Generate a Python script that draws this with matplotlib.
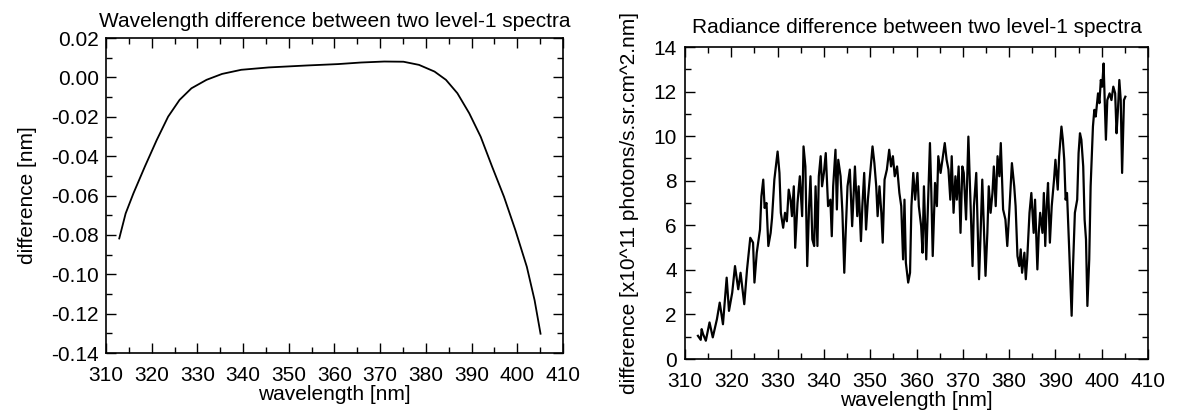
import numpy as np
import matplotlib
matplotlib.use('Agg')
import matplotlib.pyplot as plt
from matplotlib.ticker import MultipleLocator, FormatStrFormatter

plt.rcParams['font.family'] = ['Liberation Sans', 'DejaVu Sans']
plt.rcParams['axes.unicode_minus'] = False

# Left panel: wavelength difference
wl_shift_x = [312.9, 314.3, 316.0, 318.5, 321.1, 323.6, 326.1, 328.7, 332.0, 335.4,
              339.6, 345.6, 354.0, 360.8, 365.8, 370.9, 375.1, 378.5, 381.9, 384.4,
              386.9, 389.5, 392.0, 394.5, 397.1, 399.6, 402.1, 403.8, 405.1]
wl_shift_y = [-0.0818, -0.0691, -0.0589, -0.0453, -0.0318, -0.0199, -0.0114, -0.0055, -0.0012, 0.0018,
              0.0039, 0.0051, 0.0061, 0.0068, 0.0076, 0.0081, 0.0080, 0.0064, 0.0030, -0.0012,
              -0.0080, -0.0182, -0.0301, -0.0453, -0.0606, -0.0776, -0.0962, -0.1132, -0.1302]

# Right panel: radiance difference [x10^11 photons/s.sr.cm^2.nm]
rad_x = [312.8, 313.4, 313.6, 313.9, 314.5, 315.3, 316.0, 316.9, 317.5, 318.2,
         319.0, 319.5, 320.2, 320.8, 321.5, 322.0, 322.8, 323.4, 324.1, 324.7,
         325.0, 325.5, 326.2, 326.5, 326.9, 327.2, 327.6, 328.0, 328.5, 328.8,
         329.3, 330.0, 330.4, 330.7, 331.2, 331.6, 332.0, 332.4, 332.8, 333.1,
         333.5, 333.8, 334.3, 334.8, 335.3, 335.6, 336.0, 336.4, 336.8, 337.1,
         337.5, 337.9, 338.2, 338.6, 338.9, 339.3, 339.6, 340.0, 340.4, 340.9,
         341.4, 341.7, 342.0, 342.5, 342.8, 343.1, 343.6, 344.0, 344.4, 344.7,
         345.1, 345.6, 346.1, 346.4, 346.7, 347.2, 347.5, 348.0, 348.3, 348.7,
         349.1, 349.5, 350.0, 350.5, 350.9, 351.3, 351.6, 352.0, 352.4, 352.7,
         353.1, 353.6, 354.1, 354.5, 354.9, 355.3, 355.8, 356.3, 356.7, 357.1,
         357.4, 357.7, 358.2, 358.6, 358.9, 359.3, 359.7, 360.2, 360.5, 361.0,
         361.3, 361.6, 362.1, 362.4, 362.9, 363.2, 363.5, 364.0, 364.4, 364.7,
         365.2, 365.7, 366.1, 366.5, 366.9, 367.3, 367.6, 368.0, 368.4, 368.7,
         369.1, 369.5, 369.9, 370.2, 370.7, 371.2, 371.6, 372.1, 372.4, 372.9,
         373.2, 373.5, 373.8, 374.2, 374.6, 374.9, 375.3, 375.6, 376.0, 376.4,
         376.7, 377.1, 377.5, 377.9, 378.2, 378.7, 379.2, 379.6, 380.1, 380.6,
         381.1, 381.4, 381.8, 382.2, 382.5, 382.8, 383.3, 383.6, 383.9, 384.4,
         384.8, 385.3, 385.6, 386.1, 386.4, 386.7, 387.2, 387.5, 387.8, 388.1,
         388.4, 388.8, 389.2, 389.7, 390.0, 390.5, 390.8, 391.3, 391.6, 391.9,
         392.2, 392.5, 393.0, 393.5, 393.8, 394.2, 394.7, 395.0, 395.3, 395.6,
         396.0, 396.3, 396.6, 396.9, 397.3, 397.6, 398.1, 398.4, 398.7, 399.2,
         399.5, 399.8, 400.1, 400.4, 400.9, 401.2, 401.7, 402.1, 402.5, 402.9,
         403.2, 403.5, 403.8, 404.1, 404.4, 404.8, 405.1]
rad_y = [1.04, 0.86, 1.34, 1.12, 0.82, 1.64, 0.97, 1.79, 2.53, 1.56,
         3.65, 2.16, 2.98, 4.17, 3.13, 3.87, 2.46, 4.02, 5.44, 5.22,
         3.43, 4.77, 5.81, 7.30, 8.05, 6.78, 7.00, 5.07, 5.66, 6.33,
         8.05, 9.31, 8.35, 6.56, 5.89, 6.56, 6.18, 7.60, 7.15, 6.41,
         7.75, 4.99, 7.00, 8.20, 6.41, 9.54, 8.64, 4.17, 6.86, 8.20,
         5.37, 5.07, 7.75, 5.07, 8.20, 9.10, 7.75, 8.35, 9.24, 6.86,
         7.15, 5.51, 7.75, 9.39, 6.71, 8.94, 8.20, 6.56, 3.87, 5.66,
         7.75, 8.50, 5.96, 7.30, 8.64, 6.41, 7.75, 5.29, 6.86, 8.35,
         5.81, 7.15, 8.35, 9.54, 8.79, 7.75, 6.41, 7.75, 6.56, 5.22,
         8.05, 8.50, 9.39, 8.64, 9.10, 8.20, 8.64, 7.45, 6.86, 4.47,
         7.15, 4.32, 3.43, 3.87, 6.86, 8.35, 7.15, 8.35, 6.86, 5.96,
         4.77, 7.75, 4.47, 6.41, 9.69, 7.45, 4.62, 7.90, 6.86, 9.10,
         8.35, 9.10, 9.69, 8.94, 8.50, 7.15, 9.10, 6.56, 8.20, 7.15,
         8.64, 5.66, 8.64, 8.35, 6.26, 9.98, 7.45, 4.17, 6.86, 8.35,
         5.96, 3.58, 5.37, 8.05, 5.66, 3.73, 5.66, 7.75, 6.56, 7.45,
         8.64, 6.86, 9.10, 8.20, 9.69, 6.71, 6.26, 5.07, 6.86, 8.79,
         7.75, 6.86, 4.62, 4.17, 4.92, 3.87, 4.77, 3.58, 4.47, 6.56,
         7.45, 5.66, 7.15, 4.02, 5.66, 6.56, 5.66, 7.45, 5.07, 6.86,
         7.90, 5.22, 6.86, 8.05, 8.94, 7.60, 9.10, 10.43, 9.84, 8.94,
         7.15, 7.45, 4.77, 1.94, 4.17, 6.56, 7.15, 9.24, 10.13, 9.84,
         8.64, 6.26, 5.37, 2.38, 4.47, 7.75, 10.43, 11.18, 10.88, 11.92,
         11.48, 12.52, 12.22, 13.26, 9.84, 11.62, 11.92, 11.62, 12.22, 11.92,
         10.13, 11.18, 12.52, 11.62, 8.35, 11.62, 11.77]

fig = plt.figure(figsize=(11.99, 4.16), dpi=100)
ax1 = fig.add_axes([0.0884, 0.1514, 0.3811, 0.757])
ax2 = fig.add_axes([0.5713, 0.1370, 0.3862, 0.750])


def style_axes(ax, xpad, ypad):
    for sp in ax.spines.values():
        sp.set_linewidth(1.2)
    ax.tick_params(which='both', direction='in', top=True, right=True,
                   labelsize=15, width=1.0)
    ax.tick_params(which='major', length=7)
    ax.tick_params(which='minor', length=4)
    ax.tick_params(axis='x', which='both', pad=xpad)
    ax.tick_params(axis='y', which='both', pad=ypad)
    ax.xaxis.set_major_locator(MultipleLocator(10))
    ax.xaxis.set_minor_locator(MultipleLocator(5))
    ax.set_xlim(310, 410)
    ax.set_xlabel('wavelength [nm]', fontsize=15, labelpad=0)


ax1.plot(wl_shift_x, wl_shift_y, color='black', lw=1.3)
style_axes(ax1, 9, 5)
ax1.set_ylim(-0.14, 0.02)
ax1.yaxis.set_major_locator(MultipleLocator(0.02))
ax1.yaxis.set_minor_locator(MultipleLocator(0.01))
ax1.yaxis.set_major_formatter(FormatStrFormatter('%.2f'))
ax1.set_ylabel('difference [nm]', fontsize=15, labelpad=10)
ax1.set_title('Wavelength difference between two level-1 spectra', fontsize=15, pad=8)

ax2.plot(rad_x, rad_y, color='black', lw=1.6)
style_axes(ax2, 9, 6)
ax2.set_ylim(0, 14)
ax2.yaxis.set_major_locator(MultipleLocator(2))
ax2.yaxis.set_minor_locator(MultipleLocator(1))
ax2.set_ylabel('difference [x10^11 photons/s.sr.cm^2.nm]', fontsize=15, labelpad=10)
ax2.set_title('Radiance difference between two level-1 spectra', fontsize=15, pad=10)

fig.savefig('out.png', dpi=100)
